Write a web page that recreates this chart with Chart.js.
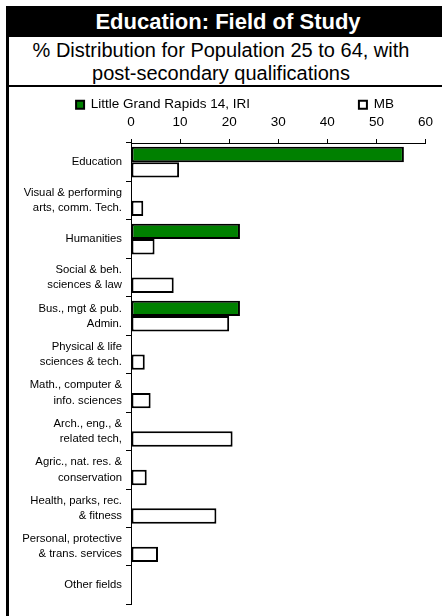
<!DOCTYPE html>
<html><head><meta charset="utf-8">
<script src="https://cdn.jsdelivr.net/npm/chart.js@4.4.1/dist/chart.umd.min.js"></script>
<style>
html,body{margin:0;padding:0;background:#fff;}
body{width:442px;height:616px;position:relative;overflow:hidden;font-family:"Liberation Sans",Arial,sans-serif;}
#lb{position:absolute;left:6px;top:6px;width:3px;height:610px;background:#000;}
#title{position:absolute;left:6px;top:6px;width:436px;height:31px;box-sizing:border-box;padding-left:8px;background:#000;color:#fff;font-weight:bold;font-size:22px;line-height:31px;text-align:center;white-space:nowrap;}
#sub{position:absolute;left:0;top:39px;width:442px;font-size:20px;line-height:23px;text-align:center;color:#000;white-space:nowrap;}
#rule{position:absolute;left:6px;top:85px;width:436px;height:2px;background:#000;}
#wrap{position:absolute;left:0;top:88px;width:442px;height:528px;}
</style></head>
<body>
<div id="lb"></div>
<div id="title">Education: Field of Study</div>
<div id="sub">% Distribution for Population 25 to 64, with<br>post-secondary qualifications</div>
<div id="rule"></div>
<div id="wrap"><canvas id="c" width="442" height="528"></canvas></div>
<script>
const categories = [
  "Education",
  ["Visual & performing", "arts, comm. Tech."],
  "Humanities",
  ["Social & beh.", "sciences & law"],
  ["Bus., mgt & pub.", "Admin."],
  ["Physical & life", "sciences & tech."],
  ["Math., computer &", "info. sciences"],
  ["Arch., eng., &", "related tech,"],
  ["Agric., nat. res. &", "conservation"],
  ["Health, parks, rec.", "& fitness"],
  ["Personal, protective", "& trans. services"],
  "Other fields"
];
const seriesNames = ["Little Grand Rapids 14, IRI", "MB"];
const lgrValues = [55.6, 0, 22.2, 0, 22.2, 0, 0, 0, 0, 0, 0, 0];
const mbValues  = [9.8, 2.5, 4.8, 8.7, 20.0, 2.8, 4.0, 20.7, 3.2, 17.4, 5.5, 0];
const xTickValues = [0, 10, 20, 30, 40, 50, 60];

Chart.defaults.font.family = "'Liberation Sans', Arial, sans-serif";
Chart.defaults.color = "#000";

// keep both legend entries on one row with a wide gap, like the original
const legendLayout = {
  id: 'legendLayout',
  afterInit(chart) {
    const lg = chart.legend;
    if (!lg) return;
    const fit0 = lg.fit;
    lg.fit = function () {
      const mw = this.maxWidth;
      this.maxWidth = 10000;
      fit0.call(this);
      this.maxWidth = mw;
      this.width = mw;
      this.height = Math.min(this.height, this.options.maxHeight || this.height);
    };
    const draw0 = lg.draw;
    lg.draw = function (a) {
      const t = this.top, l = this.left, r = this.right;
      const dx = 22;
      this.top = t - this.options.labels.padding + 5;
      this.left = l - 10000 + dx; this.right = r + 10000 + dx;
      draw0.call(this, a);
      this.top = t; this.left = l; this.right = r;
    };
  }
};

new Chart(document.getElementById('c'), {
  type: 'bar',
  data: {
    labels: categories,
    datasets: [
      { label: seriesNames[0], data: lgrValues, backgroundColor: '#008000', borderColor: '#000',
        borderWidth: 2, borderSkipped: false, categoryPercentage: 0.8, barPercentage: 1.0 },
      { label: seriesNames[1], data: mbValues, backgroundColor: '#fff', borderColor: '#000',
        borderWidth: 2, borderSkipped: false, categoryPercentage: 0.8, barPercentage: 1.0 }
    ]
  },
  options: {
    indexAxis: 'y',
    responsive: false,
    animation: false,
    layout: { padding: { left: 0, right: 16, top: 5, bottom: 7 } },
    plugins: {
      tooltip: { enabled: false },
      title: { display: false },
      legend: {
        position: 'top',
        maxHeight: 22,
        labels: { boxWidth: 8, boxHeight: 8, padding: 109, color: '#000', font: { size: 13.5 } }
      }
    },
    scales: {
      x: {
        position: 'top',
        min: xTickValues[0], max: xTickValues[xTickValues.length - 1],
        afterBuildTicks(s) { s.ticks = xTickValues.map(v => ({ value: v })); },
        ticks: { color: '#000', font: { size: 13.5 }, padding: 9 },
        grid: { drawOnChartArea: false, drawTicks: true, tickLength: 4, color: '#000' },
        border: { color: '#000', width: 1 },
        afterFit(s) { s.height = 28; }
      },
      y: {
        ticks: { color: '#000', font: { size: 11.3, lineHeight: 1.35 }, padding: 4, autoSkip: false },
        grid: { drawOnChartArea: false, drawTicks: true, tickLength: 5, color: '#000', offset: true },
        border: { color: '#000', width: 1 },
        afterFit(s) { s.width = 131; }
      }
    }
  },
  plugins: [legendLayout]
});
</script>
</body></html>
